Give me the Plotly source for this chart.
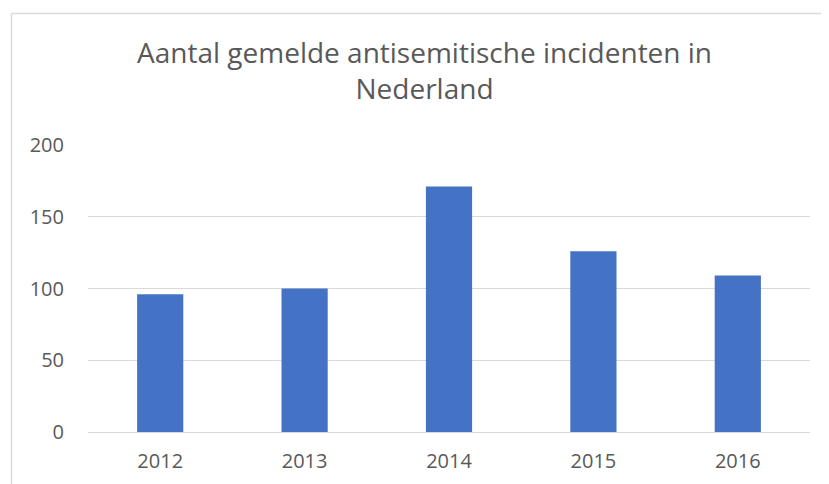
import plotly.graph_objects as go

years = ["2012", "2013", "2014", "2015", "2016"]
incidents = [96, 100, 171, 126, 109]
y_ticks = [0, 50, 100, 150, 200]
title_text = "Aantal gemelde antisemitische incidenten in<br>Nederland"

# The page body has an 8px margin, so the figure is shrunk and shifted by it.
OFF = 8
W, H = 829 - OFF, 484 - OFF
# plot area in window pixels
PL, PR, PT, PB = 88, 810, 145, 432
L, T = PL - OFF, PT - OFF
R, B = W - (PR - OFF), H - (PB - OFF)
pw = PR - PL
ph = PB - PT

def px_x(x):
    return (x - PL) / pw

def px_y(y):
    return (PB - y) / ph

font = "Open Sans"
txt = "#595959"
grid = "#d9d9d9"

fig = go.Figure(go.Bar(x=years, y=incidents, marker=dict(color="#4472C4", line=dict(width=0)),
                       width=0.32, hoverinfo="x+y"))

fig.update_layout(
    width=W, height=H,
    margin=dict(l=L, r=R, t=T, b=B, pad=0, autoexpand=False),
    paper_bgcolor="white", plot_bgcolor="white",
    showlegend=False,
    font=dict(family=font, color=txt),
    xaxis=dict(type="category", showgrid=False, showline=True, linecolor=grid, linewidth=1,
               ticks="", tickfont=dict(size=20, color=txt), ticklabelstandoff=11,
               zeroline=False, automargin=False),
    yaxis=dict(range=[0, 200], tickvals=y_ticks, showgrid=True, gridcolor=grid, gridwidth=1,
               zeroline=False, showline=False, ticks="",
               tickfont=dict(size=20, color=txt), ticklabelstandoff=23, automargin=False),
    annotations=[
        dict(text=title_text, xref="paper", yref="paper", x=px_x(424), y=px_y(70),
             xanchor="center", yanchor="middle", align="center", showarrow=False,
             font=dict(family=font, size=28, color=txt)),
    ],
    shapes=[
        dict(type="line", xref="paper", yref="paper", x0=px_x(11.5), x1=px_x(840), y0=px_y(13.5), y1=px_y(13.5),
             line=dict(color=grid, width=1.5)),
        dict(type="line", xref="paper", yref="paper", x0=px_x(11.5), x1=px_x(11.5), y0=px_y(13.5), y1=px_y(500),
             line=dict(color=grid, width=1.5)),
    ],
)

fig.write_html("out.html")
